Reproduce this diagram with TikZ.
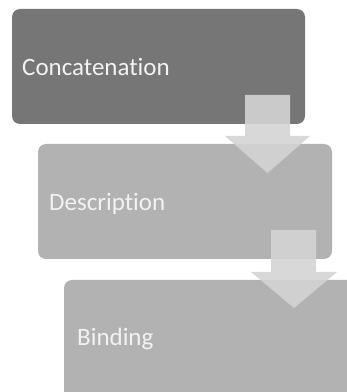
\documentclass[tikz,border=0pt]{standalone}
\usepackage{fontspec}
\setmainfont{Carlito}[Ligatures=NoCommon]
\definecolor{boxdark}{RGB}{118,118,118}
\definecolor{boxlight}{RGB}{178,178,178}
\definecolor{arrowc}{RGB}{212,212,212}
\definecolor{txt}{RGB}{242,242,242}
\begin{document}
\begin{tikzpicture}[x=1pt,y=1pt,
  stagebox/.style={rounded corners=8pt, draw=none},
  stagetext/.style={anchor=base west, inner sep=0pt, text=txt, font=\fontsize{25}{29}\selectfont},
  blockarrow/.style={fill=arrowc, fill opacity=0.9, draw=none}]
\useasboundingbox (0,0) rectangle (347,392);
\begin{scope}
\clip (0,0) rectangle (347,392);
\fill[stagebox, fill=boxdark] (12,268) rectangle (305,383);
\fill[stagebox, fill=boxlight] (38,133) rectangle (332,248);
\fill[stagebox, fill=boxlight] (64,-12) rectangle (359,112);
\node[stagetext] (t1) at (22,316.5) {Concatenation};
\node[stagetext] (t2) at (49,181.5) {Description};
\node[stagetext] (t3) at (77,46.5) {Binding};
\fill[blockarrow] (245,297) -- (290,297) -- (290,256) -- (310,256) -- (267.5,219) -- (225,256) -- (245,256) -- cycle;
\fill[blockarrow] (271,162) -- (316,162) -- (316,120) -- (337,120) -- (294,84) -- (251,120) -- (271,120) -- cycle;
\end{scope}
\end{tikzpicture}
\end{document}
